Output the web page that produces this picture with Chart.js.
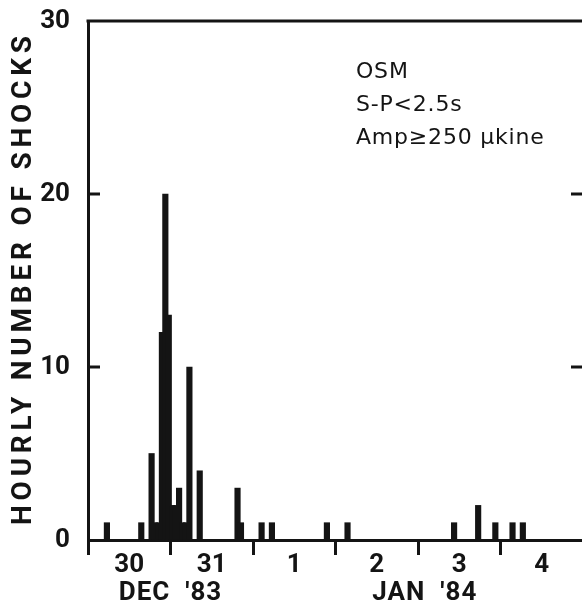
<!DOCTYPE html>
<html>
<head>
<meta charset="utf-8">
<title>Hourly number of shocks</title>
<script src="https://cdn.jsdelivr.net/npm/chart.js@4/dist/chart.umd.min.js"></script>
<style>
  html, body { margin: 0; padding: 0; background: #fff; overflow: hidden; }
  #wrap { width: 582px; height: 610px; overflow: hidden; }
  canvas { display: block; }
</style>
</head>
<body>
<div id="wrap"><canvas id="shocksChart" width="594" height="610"></canvas></div>
<script>
// Hourly shocks at OSM, hour counted from 00:00 Dec 30 1983
const shockHours  = [5, 15, 18, 19, 20, 21, 22, 23, 24, 25, 26, 27, 28, 29, 32, 43, 44, 50, 53, 69, 75, 106, 113, 118, 123, 126];
const shockCounts = [1, 1, 5, 1, 1, 12, 20, 13, 2, 2, 3, 1, 1, 10, 4, 3, 1, 1, 1, 1, 1, 1, 2, 1, 1, 1];
const dayLabels = ['30', '31', '1', '2', '3', '4'];
const monthLabels = ["DEC  '83", "JAN  '84"];
const monthHours = [24, 98];
const yTicks = [0, 10, 20, 30];
const noteLines = ['OSM', 'S-P<2.5s', 'Amp\u2265250 \u03bckine'];
const yTitle = 'HOURLY NUMBER OF SHOCKS';

const INK = '#141414';
const FONT = "Roboto, 'Liberation Sans', sans-serif";

// рамка, засечки внутрь, подписи
const decor = {
    id: 'decor',
    afterDraw(chart) {
        const ctx = chart.ctx;
        const a = chart.chartArea;
        const x = chart.scales.x;
        const y = chart.scales.y;
        ctx.save();
        ctx.strokeStyle = INK;
        ctx.fillStyle = INK;
        ctx.lineWidth = 3;

        // top border
        ctx.beginPath();
        ctx.moveTo(a.left - 1.5, a.top);
        ctx.lineTo(a.right, a.top);
        ctx.stroke();

        // inner ticks on both sides
        yTicks.slice(1, -1).forEach(v => {
            const py = y.getPixelForValue(v);
            ctx.beginPath();
            ctx.moveTo(a.left, py);
            ctx.lineTo(a.left + 12, py);
            ctx.moveTo(a.right, py);
            ctx.lineTo(a.right - 12, py);
            ctx.stroke();
        });

        // y title
        ctx.font = 'bold 28px ' + FONT;
        ctx.letterSpacing = '0px';
        const w0 = ctx.measureText(yTitle).width;
        const gap = Math.max(0, (489 - w0) / (yTitle.length - 1));
        ctx.letterSpacing = gap + 'px';
        ctx.translate(24, 525);
        ctx.rotate(-Math.PI / 2);
        ctx.textAlign = 'left';
        ctx.textBaseline = 'middle';
        ctx.fillText(yTitle, 0, 0);
        ctx.setTransform(1, 0, 0, 1, 0, 0);

        // month labels
        ctx.font = 'bold 26px ' + FONT;
        ctx.letterSpacing = '1px';
        ctx.textAlign = 'center';
        ctx.textBaseline = 'middle';
        monthLabels.forEach((t, i) => {
            ctx.fillText(t, x.getPixelForValue(monthHours[i]), a.bottom + 53);
        });

        // station note
        ctx.font = '22px "DejaVu Sans"';
        ctx.letterSpacing = '0.8px';
        ctx.textAlign = 'left';
        ctx.textBaseline = 'alphabetic';
        noteLines.forEach((t, i) => {
            ctx.fillText(t, a.left + 268, a.top + 57 + i * 33);
        });
        ctx.restore();
    }
};

new Chart(document.getElementById('shocksChart'), {
    type: 'bar',
    data: {
        datasets: [{
            data: shockHours.map((h, i) => ({ x: h + 0.5, y: shockCounts[i] })),
            backgroundColor: INK,
            borderWidth: 0,
            barThickness: 5.5
        }]
    },
    options: {
        responsive: false,
        animation: false,
        devicePixelRatio: 1,
        layout: { padding: { left: 0, right: 11, top: 21, bottom: 0 } },
        plugins: {
            legend: { display: false },
            tooltip: { enabled: false }
        },
        scales: {
            x: {
                type: 'linear',
                min: 0,
                max: 144,
                offset: false,
                afterFit: s => {
                    s.height = 70;
                    s.paddingLeft = 0;
                    s.paddingRight = 0;
                },
                grid: {
                    offset: false,
                    drawOnChartArea: false,
                    drawTicks: true,
                    tickLength: 15,
                    lineWidth: 3,
                    color: c => (c.tick && c.tick.value % 24 === 0) ? INK : 'rgba(0,0,0,0)'
                },
                border: { display: true, color: INK, width: 3 },
                ticks: {
                    stepSize: 12,
                    autoSkip: false,
                    maxRotation: 0,
                    padding: -5,
                    color: INK,
                    font: { family: FONT, size: 26, weight: 'bold' },
                    callback: v => v % 24 === 12 ? dayLabels[(v - 12) / 24] : ''
                }
            },
            y: {
                min: 0,
                max: 30,
                afterFit: s => {
                    s.width = 88;
                    s.paddingTop = 0;
                    s.paddingBottom = 0;
                },
                afterBuildTicks: s => { s.ticks = yTicks.map(v => ({ value: v })); },
                grid: { drawOnChartArea: false, drawTicks: false },
                border: { display: true, color: INK, width: 3 },
                ticks: {
                    padding: 18,
                    color: INK,
                    font: { family: FONT, size: 26, weight: 'bold' }
                }
            }
        }
    },
    plugins: [decor]
});
</script>
</body>
</html>
